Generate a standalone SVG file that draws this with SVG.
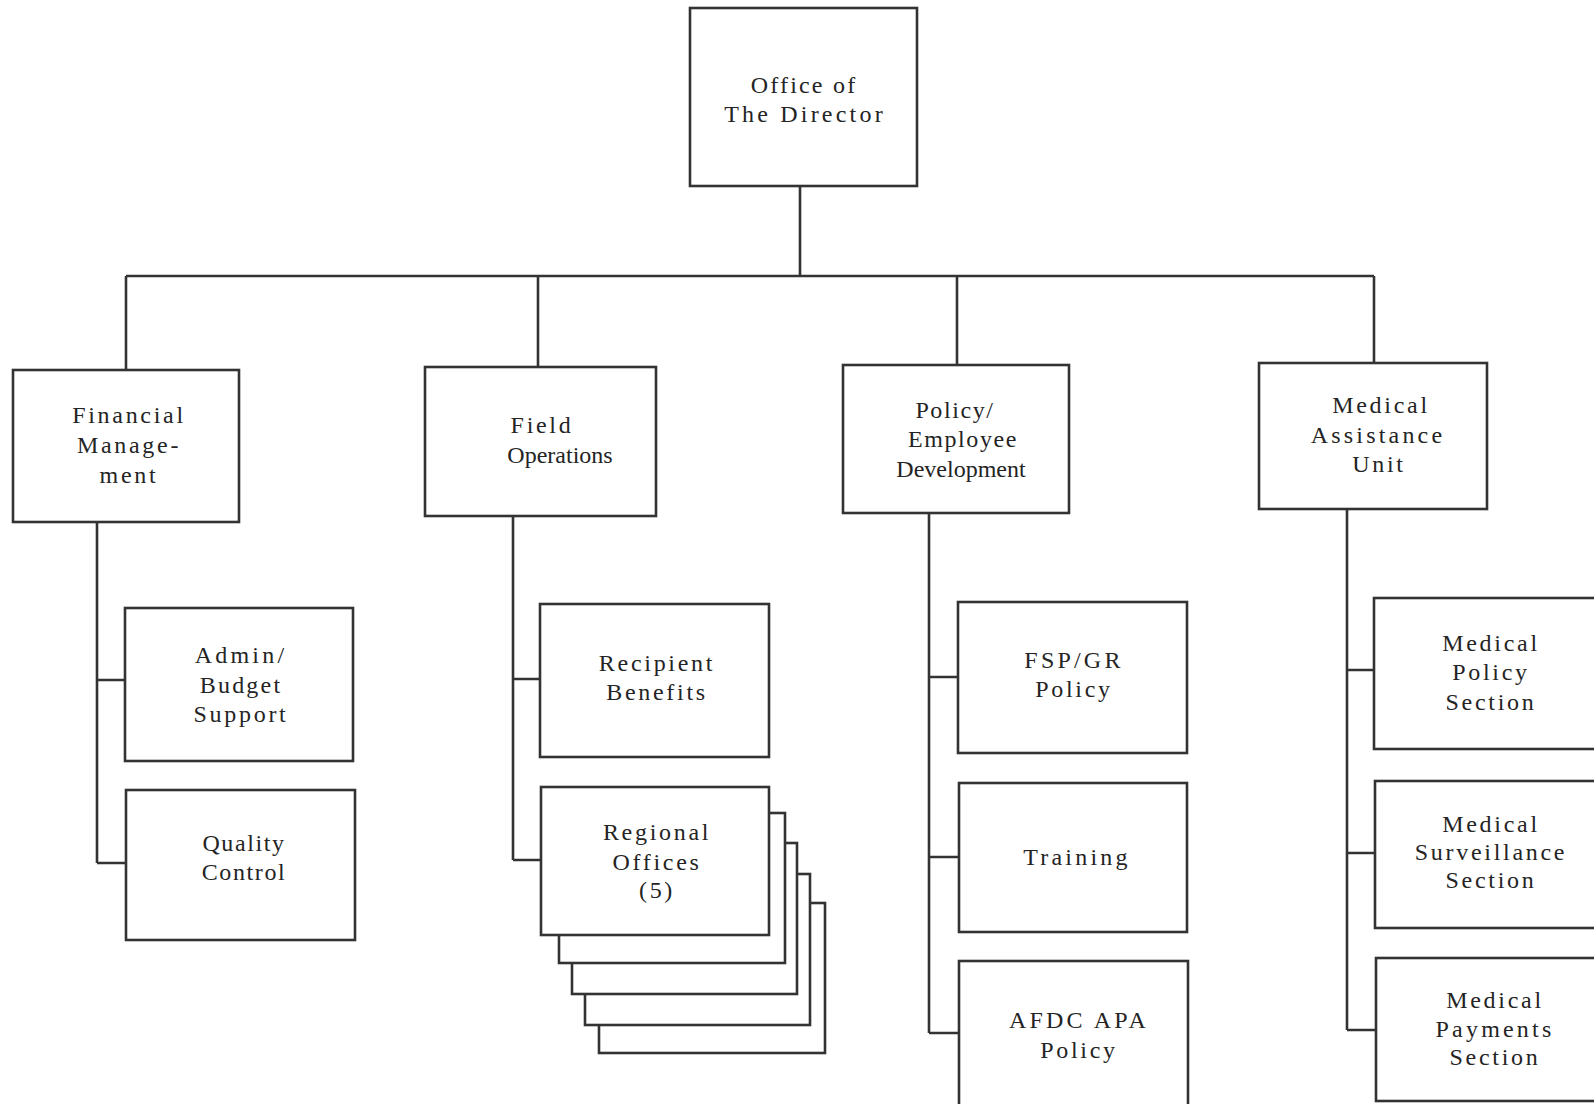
<svg xmlns="http://www.w3.org/2000/svg" width="1594" height="1104" viewBox="0 0 1594 1104">
<style>
.box{fill:#fff;stroke:#333;stroke-width:2.6}
.ln{fill:none;stroke:#333;stroke-width:2.6}
text{font-family:"Liberation Serif","Times New Roman",serif;font-size:24px;fill:#242424;text-anchor:middle;letter-spacing:2.7px}
.n0{letter-spacing:0}
.n1{letter-spacing:1.6px}
.n2{letter-spacing:2.2px}
.n3{letter-spacing:3.2px}
</style>
<rect width="1594" height="1104" fill="#fff"/>
<g id="connectors">
<path class="ln" d="M800 186V276M126 276H1374M126 276V370M538 276V367M957 276V365M1374 276V363"/>
<path class="ln" d="M97 522V863M97 680H125M97 863H126"/>
<path class="ln" d="M513 516V860M513 679H540M513 860H541"/>
<path class="ln" d="M929 513V1033M929 677H958M929 857H959M929 1033H959"/>
<path class="ln" d="M1347 509V1030M1347 670H1374M1347 853H1375M1347 1030H1376"/>
</g>
<g id="director">
<rect class="box" x="690" y="8" width="227" height="178"/>
<text class="n2" x="804" y="93">Office of</text>
<text class="n3" x="805" y="122">The Director</text>
</g>
<g id="financial">
<rect class="box" x="13" y="370" width="226" height="152"/>
<text x="129" y="423">Financial</text>
<text x="129" y="453">Manage-</text>
<text x="129" y="483">ment</text>
</g>
<g id="field">
<rect class="box" x="425" y="367" width="231" height="149"/>
<text x="542" y="433">Field</text>
<text class="n0" x="560" y="463">Operations</text>
</g>
<g id="policy">
<rect class="box" x="843" y="365" width="226" height="148"/>
<text class="n1" x="955" y="418">Policy/</text>
<text class="n1" x="963" y="447">Employee</text>
<text class="n0" x="961" y="477">Development</text>
</g>
<g id="medical">
<rect class="box" x="1259" y="363" width="228" height="146"/>
<text x="1381" y="413">Medical</text>
<text class="n3" x="1378" y="443">Assistance</text>
<text x="1379" y="472">Unit</text>
</g>
<g id="admin">
<rect class="box" x="125" y="608" width="228" height="153"/>
<text class="n3" x="241" y="663">Admin/</text>
<text class="n2" x="241" y="693">Budget</text>
<text x="241" y="722">Support</text>
</g>
<g id="quality">
<rect class="box" x="126" y="790" width="229" height="150"/>
<text class="n1" x="244" y="851">Quality</text>
<text class="n1" x="244" y="880">Control</text>
</g>
<g id="recipient">
<rect class="box" x="540" y="604" width="229" height="153"/>
<text x="657" y="671">Recipient</text>
<text x="657" y="700">Benefits</text>
</g>
<g id="regional">
<rect class="box" x="599" y="903" width="226" height="150"/>
<rect class="box" x="585" y="874" width="225" height="151"/>
<rect class="box" x="572" y="843" width="225" height="151"/>
<rect class="box" x="559" y="813" width="226" height="150"/>
<rect class="box" x="541" y="787" width="228" height="148"/>
<text x="657" y="840">Regional</text>
<text x="657" y="870">Offices</text>
<text x="657" y="898">(5)</text>
</g>
<g id="fsp">
<rect class="box" x="958" y="602" width="229" height="151"/>
<text class="n3" x="1074" y="668">FSP/GR</text>
<text x="1074" y="697">Policy</text>
</g>
<g id="training">
<rect class="box" x="959" y="783" width="228" height="149"/>
<text class="n3" x="1077" y="865">Training</text>
</g>
<g id="afdc">
<rect class="box" x="959" y="961" width="229" height="160"/>
<text class="n3" x="1079" y="1028">AFDC APA</text>
<text x="1079" y="1058">Policy</text>
</g>
<g id="medpolicy">
<rect class="box" x="1374" y="598" width="240" height="151"/>
<text x="1491" y="651">Medical</text>
<text x="1491" y="680">Policy</text>
<text x="1491" y="710">Section</text>
</g>
<g id="surveillance">
<rect class="box" x="1375" y="781" width="240" height="147"/>
<text x="1491" y="832">Medical</text>
<text x="1491" y="860">Surveillance</text>
<text x="1491" y="888">Section</text>
</g>
<g id="payments">
<rect class="box" x="1376" y="958" width="240" height="143"/>
<text x="1495" y="1008">Medical</text>
<text class="n3" x="1495" y="1037">Payments</text>
<text x="1495" y="1065">Section</text>
</g>
</svg>
